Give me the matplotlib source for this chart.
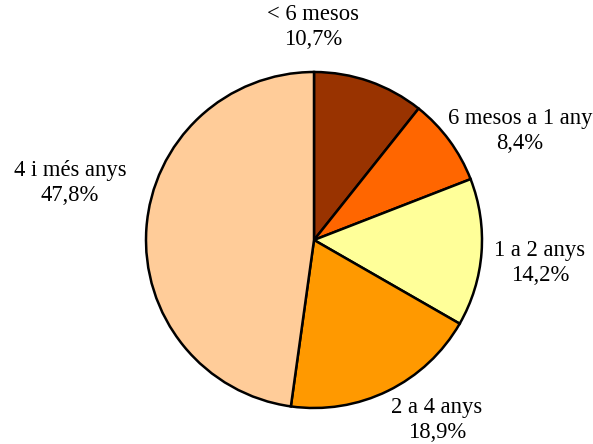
import matplotlib
matplotlib.use("Agg")
import matplotlib.pyplot as plt

categories = ["< 6 mesos", "6 mesos a 1 any", "1 a 2 anys", "2 a 4 anys", "4 i més anys"]
values = [10.7, 8.4, 14.2, 18.9, 47.8]
pct_labels = ["10,7%", "8,4%", "14,2%", "18,9%", "47,8%"]
colors = ["#993300", "#FF6600", "#FFFF99", "#FF9900", "#FFCC99"]

W, H = 593, 444
fig = plt.figure(figsize=(W / 100, H / 100), dpi=100)
ax = fig.add_axes([0, 0, 1, 1])

cx, cy, r = 314, H - 240, 168
ax.pie(values, colors=colors, startangle=90, counterclock=False,
       center=(cx, cy), radius=r, frame=True,
       wedgeprops=dict(edgecolor="black", linewidth=1.8))
ax.set_xlim(0, W)
ax.set_ylim(0, H)
ax.set_aspect("equal")
ax.axis("off")

label_pos = [(313, 27), (520, 131), (540, 263), (437, 420), (70, 183)]
for cat, pct, (x, y) in zip(categories, pct_labels, label_pos):
    ax.text(x, H - y, f"{cat}\n{pct}", ha="center", va="center",
            fontsize=16.3, family="Liberation Serif", linespacing=1.3)

fig.savefig("out.png", dpi=100)
